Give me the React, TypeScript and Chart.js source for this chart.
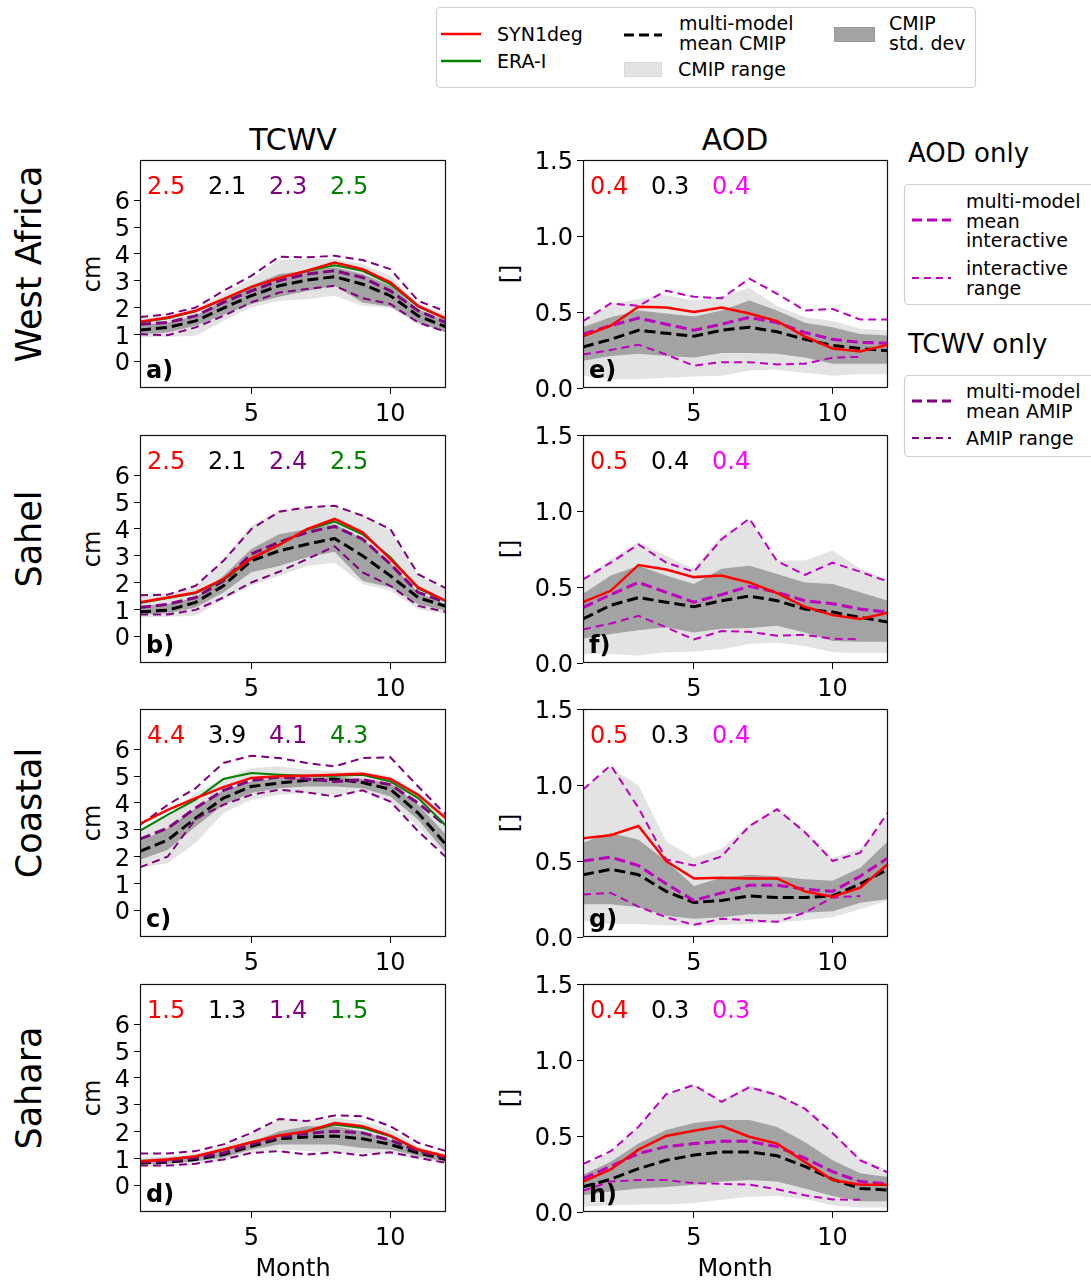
import React, { useEffect, useRef } from 'react';
import { Chart, registerables } from 'chart.js';
Chart.register(...registerables);

const FONT = '"DejaVu Sans", Verdana, sans-serif';

// ---------- axes / categories ----------
const MONTHS = [1, 2, 3, 4, 5, 6, 7, 8, 9, 10, 11, 12];
const MONTH_TICKS = [5, 10];
const TCWV_TICKS = [0, 1, 2, 3, 4, 5, 6];
const AOD_TICKS = [0, 0.5, 1.0, 1.5];
const REGIONS = ['West Africa', 'Sahel', 'Coastal', 'Sahara'];

// ---------- a) West Africa TCWV (cm) ----------
const WA_TCWV_SYN = [1.47, 1.63, 1.88, 2.31, 2.77, 3.1, 3.37, 3.68, 3.43, 2.94, 2.06, 1.59];
const WA_TCWV_ERA = [1.45, 1.6, 1.86, 2.3, 2.76, 3.1, 3.36, 3.58, 3.37, 2.87, 2.03, 1.57];
const WA_TCWV_CMIP_MEAN = [1.16, 1.26, 1.5, 1.98, 2.44, 2.81, 3.02, 3.15, 2.87, 2.44, 1.69, 1.28];
const WA_TCWV_CMIP_SD_HI = [1.36, 1.44, 1.69, 2.25, 2.81, 3.25, 3.37, 3.5, 3.25, 2.81, 1.94, 1.5];
const WA_TCWV_CMIP_SD_LO = [1.0, 1.07, 1.32, 1.73, 2.13, 2.4, 2.62, 2.81, 2.19, 2.03, 1.44, 1.07];
const WA_TCWV_CMIP_MAX = [1.63, 1.69, 1.94, 2.5, 3.06, 3.77, 3.81, 3.81, 3.62, 3.18, 2.13, 1.75];
const WA_TCWV_CMIP_MIN = [0.88, 0.91, 0.95, 1.5, 2.0, 2.25, 2.31, 2.44, 2.06, 2.0, 1.38, 1.13];
const WA_TCWV_AMIP_MEAN = [1.38, 1.44, 1.69, 2.19, 2.62, 3.0, 3.25, 3.37, 3.12, 2.62, 1.88, 1.44];
const WA_TCWV_AMIP_MAX = [1.65, 1.75, 2.0, 2.62, 3.18, 3.89, 3.87, 3.93, 3.77, 3.43, 2.25, 1.85];
const WA_TCWV_AMIP_MIN = [1.0, 0.97, 1.26, 1.69, 2.19, 2.56, 2.69, 2.81, 2.35, 2.13, 1.44, 1.09];

// ---------- b) Sahel TCWV ----------
const SH_TCWV_SYN = [1.26, 1.44, 1.63, 2.13, 2.9, 3.4, 3.99, 4.37, 3.87, 2.87, 1.82, 1.32];
const SH_TCWV_ERA = [1.24, 1.42, 1.6, 2.1, 2.88, 3.4, 3.97, 4.27, 3.8, 2.94, 1.78, 1.3];
const SH_TCWV_CMIP_MEAN = [0.91, 0.97, 1.26, 1.88, 2.81, 3.18, 3.43, 3.64, 3.0, 2.25, 1.44, 1.11];
const SH_TCWV_CMIP_SD_HI = [1.13, 1.2, 1.44, 2.25, 3.25, 3.8, 4.0, 4.18, 3.62, 2.75, 1.63, 1.19];
const SH_TCWV_CMIP_SD_LO = [0.82, 0.85, 1.07, 1.63, 2.38, 2.62, 2.94, 3.15, 2.06, 1.82, 1.19, 0.95];
const SH_TCWV_CMIP_MAX = [1.5, 1.57, 1.82, 2.87, 4.12, 4.68, 4.76, 4.8, 4.55, 3.93, 2.25, 1.75];
const SH_TCWV_CMIP_MIN = [0.7, 0.72, 0.76, 1.38, 1.88, 2.25, 2.62, 2.75, 1.94, 1.69, 1.0, 0.82];
const SH_TCWV_AMIP_MEAN = [1.07, 1.19, 1.44, 2.06, 3.06, 3.5, 3.87, 4.09, 3.62, 2.69, 1.63, 1.26];
const SH_TCWV_AMIP_MAX = [1.53, 1.55, 1.88, 2.81, 3.99, 4.64, 4.8, 4.86, 4.49, 3.99, 2.31, 1.78];
const SH_TCWV_AMIP_MIN = [0.81, 0.81, 0.98, 1.44, 2.0, 2.4, 2.87, 3.35, 2.38, 1.88, 1.13, 0.91];

// ---------- c) Coastal TCWV ----------
const CO_TCWV_SYN = [3.22, 3.74, 4.18, 4.59, 4.93, 4.99, 5.01, 5.05, 5.09, 4.89, 4.3, 3.43];
const CO_TCWV_ERA = [2.96, 3.56, 4.12, 4.89, 5.11, 5.05, 5.01, 5.01, 5.05, 4.8, 4.18, 3.15];
const CO_TCWV_CMIP_MEAN = [2.19, 2.62, 3.43, 4.18, 4.61, 4.74, 4.84, 4.89, 4.76, 4.51, 3.62, 2.44];
const CO_TCWV_CMIP_SD_HI = [2.56, 3.06, 3.81, 4.47, 4.8, 4.93, 4.96, 4.99, 4.89, 4.74, 3.93, 2.81];
const CO_TCWV_CMIP_SD_LO = [1.88, 2.25, 3.12, 3.93, 4.37, 4.55, 4.61, 4.61, 4.55, 4.24, 3.37, 2.13];
const CO_TCWV_CMIP_MAX = [2.87, 3.56, 4.37, 4.93, 5.3, 5.36, 5.24, 5.17, 5.17, 4.99, 4.37, 3.5];
const CO_TCWV_CMIP_MIN = [1.57, 1.75, 2.5, 3.62, 4.12, 4.3, 4.37, 4.3, 4.43, 3.99, 3.12, 2.06];
const CO_TCWV_AMIP_MEAN = [2.65, 3.06, 3.81, 4.47, 4.84, 4.96, 4.89, 4.8, 4.86, 4.68, 3.99, 3.15];
const CO_TCWV_AMIP_MAX = [3.18, 3.93, 4.55, 5.49, 5.76, 5.67, 5.49, 5.36, 5.67, 5.7, 4.61, 3.56];
const CO_TCWV_AMIP_MIN = [1.6, 2.0, 3.4, 3.93, 4.3, 4.49, 4.39, 4.24, 4.47, 4.05, 2.94, 1.98];

// ---------- d) Sahara TCWV ----------
const SA_TCWV_SYN = [0.89, 0.96, 1.08, 1.33, 1.6, 1.85, 2.01, 2.32, 2.2, 1.85, 1.33, 1.08];
const SA_TCWV_ERA = [0.88, 0.95, 1.07, 1.32, 1.6, 1.84, 2.0, 2.26, 2.13, 1.82, 1.31, 1.07];
const SA_TCWV_CMIP_MEAN = [0.83, 0.86, 0.96, 1.14, 1.45, 1.73, 1.8, 1.83, 1.73, 1.52, 1.2, 0.96];
const SA_TCWV_CMIP_SD_HI = [0.96, 1.02, 1.11, 1.33, 1.6, 2.01, 2.2, 2.2, 2.01, 1.7, 1.33, 1.08];
const SA_TCWV_CMIP_SD_LO = [0.77, 0.81, 0.89, 1.02, 1.33, 1.52, 1.52, 1.52, 1.39, 1.33, 1.08, 0.86];
const SA_TCWV_CMIP_MAX = [1.02, 1.08, 1.2, 1.45, 1.89, 2.45, 2.39, 2.51, 2.39, 2.07, 1.45, 1.14];
const SA_TCWV_CMIP_MIN = [0.71, 0.71, 0.77, 0.89, 1.2, 1.33, 1.27, 1.2, 1.2, 1.14, 0.96, 0.83];
const SA_TCWV_AMIP_MEAN = [0.86, 0.9, 1.02, 1.2, 1.52, 1.8, 1.93, 2.01, 1.95, 1.68, 1.27, 1.02];
const SA_TCWV_AMIP_MAX = [1.18, 1.18, 1.27, 1.52, 1.95, 2.47, 2.39, 2.6, 2.57, 2.2, 1.58, 1.27];
const SA_TCWV_AMIP_MIN = [0.73, 0.73, 0.8, 0.96, 1.2, 1.27, 1.14, 1.23, 1.11, 1.23, 1.02, 0.83];

// ---------- e) West Africa AOD ----------
const WA_AOD_SYN = [0.34, 0.41, 0.535, 0.53, 0.5, 0.53, 0.49, 0.44, 0.34, 0.26, 0.24, 0.285];
const WA_AOD_CMIP_MEAN = [0.27, 0.32, 0.38, 0.36, 0.34, 0.38, 0.4, 0.37, 0.32, 0.28, 0.26, 0.245];
const WA_AOD_CMIP_SD_HI = [0.4, 0.465, 0.51, 0.49, 0.47, 0.51, 0.575, 0.51, 0.43, 0.4, 0.355, 0.345];
const WA_AOD_CMIP_SD_LO = [0.18, 0.21, 0.225, 0.21, 0.2, 0.23, 0.23, 0.225, 0.2, 0.16, 0.16, 0.16];
const WA_AOD_CMIP_MAX = [0.44, 0.55, 0.585, 0.61, 0.575, 0.6, 0.66, 0.54, 0.465, 0.44, 0.39, 0.38];
const WA_AOD_CMIP_MIN = [0.08, 0.06, 0.06, 0.065, 0.075, 0.08, 0.115, 0.12, 0.1, 0.08, 0.09, 0.09];
const WA_AOD_INT_MEAN = [0.355, 0.41, 0.46, 0.42, 0.38, 0.42, 0.465, 0.43, 0.365, 0.32, 0.3, 0.295];
const WA_AOD_INT_MAX = [0.44, 0.557, 0.54, 0.64, 0.6, 0.59, 0.72, 0.62, 0.51, 0.52, 0.45, 0.45];
const WA_AOD_INT_MIN = [0.22, 0.25, 0.285, 0.22, 0.147, 0.17, 0.17, 0.155, 0.16, 0.2, 0.205, null];

// ---------- f) Sahel AOD ----------
const SH_AOD_SYN = [0.4, 0.475, 0.645, 0.615, 0.565, 0.575, 0.53, 0.46, 0.37, 0.315, 0.29, 0.33];
const SH_AOD_CMIP_MEAN = [0.29, 0.38, 0.43, 0.4, 0.37, 0.41, 0.44, 0.41, 0.355, 0.335, 0.3, 0.27];
const SH_AOD_CMIP_SD_HI = [0.455, 0.575, 0.64, 0.575, 0.52, 0.62, 0.64, 0.585, 0.53, 0.52, 0.465, 0.41];
const SH_AOD_CMIP_SD_LO = [0.16, 0.19, 0.215, 0.235, 0.2, 0.225, 0.23, 0.245, 0.2, 0.145, 0.14, 0.14];
const SH_AOD_CMIP_MAX = [0.55, 0.685, 0.795, 0.705, 0.62, 0.84, 0.935, 0.675, 0.675, 0.74, 0.62, 0.55];
const SH_AOD_CMIP_MIN = [0.06, 0.06, 0.05, 0.07, 0.075, 0.09, 0.125, 0.135, 0.11, 0.07, 0.065, 0.065];
const SH_AOD_INT_MEAN = [0.365, 0.45, 0.53, 0.465, 0.4, 0.45, 0.505, 0.465, 0.41, 0.39, 0.355, 0.335];
const SH_AOD_INT_MAX = [0.55, 0.66, 0.78, 0.66, 0.6, 0.815, 0.95, 0.67, 0.58, 0.66, 0.6, 0.535];
const SH_AOD_INT_MIN = [0.22, 0.26, 0.31, 0.235, 0.155, 0.21, 0.205, 0.18, 0.185, 0.16, 0.155, null];

// ---------- g) Coastal AOD ----------
const CO_AOD_SYN = [0.65, 0.67, 0.73, 0.5, 0.385, 0.39, 0.385, 0.385, 0.3, 0.265, 0.325, 0.48];
const CO_AOD_CMIP_MEAN = [0.41, 0.445, 0.41, 0.3, 0.227, 0.24, 0.27, 0.26, 0.26, 0.27, 0.35, 0.445];
const CO_AOD_CMIP_SD_HI = [0.62, 0.685, 0.64, 0.5, 0.335, 0.39, 0.41, 0.4, 0.38, 0.37, 0.455, 0.63];
const CO_AOD_CMIP_SD_LO = [0.215, 0.215, 0.195, 0.14, 0.12, 0.13, 0.15, 0.15, 0.16, 0.17, 0.225, 0.25];
const CO_AOD_CMIP_MAX = [0.98, 1.11, 1.0, 0.63, 0.52, 0.58, 0.74, 0.85, 0.7, 0.52, 0.58, 0.8];
const CO_AOD_CMIP_MIN = [0.11, 0.085, 0.085, 0.075, 0.075, 0.08, 0.085, 0.095, 0.11, 0.13, 0.185, 0.24];
const CO_AOD_INT_MEAN = [0.5, 0.525, 0.47, 0.35, 0.24, 0.29, 0.34, 0.34, 0.315, 0.3, 0.4, 0.52];
const CO_AOD_INT_MAX = [0.97, 1.13, 0.85, 0.51, 0.47, 0.53, 0.73, 0.84, 0.69, 0.5, 0.555, 0.82];
const CO_AOD_INT_MIN = [0.28, 0.29, 0.2, 0.13, 0.08, 0.12, 0.11, 0.1, 0.16, 0.26, 0.27, null];

// ---------- h) Sahara AOD ----------
const SA_AOD_SYN = [0.2, 0.28, 0.41, 0.5, 0.535, 0.565, 0.495, 0.45, 0.33, 0.21, 0.18, 0.18];
const SA_AOD_CMIP_MEAN = [0.165, 0.215, 0.285, 0.34, 0.375, 0.395, 0.395, 0.37, 0.3, 0.215, 0.155, 0.145];
const SA_AOD_CMIP_SD_HI = [0.245, 0.33, 0.45, 0.54, 0.585, 0.605, 0.605, 0.56, 0.46, 0.34, 0.255, 0.23];
const SA_AOD_CMIP_SD_LO = [0.11, 0.135, 0.155, 0.165, 0.18, 0.2, 0.21, 0.2, 0.155, 0.105, 0.07, 0.07];
const SA_AOD_CMIP_MAX = [0.3, 0.4, 0.56, 0.77, 0.835, 0.735, 0.835, 0.78, 0.68, 0.52, 0.36, 0.27];
const SA_AOD_CMIP_MIN = [0.035, 0.045, 0.05, 0.05, 0.06, 0.08, 0.1, 0.105, 0.085, 0.045, 0.03, 0.03];
const SA_AOD_INT_MEAN = [0.22, 0.3, 0.385, 0.43, 0.45, 0.465, 0.465, 0.43, 0.355, 0.265, 0.2, 0.185];
const SA_AOD_INT_MAX = [0.315, 0.4, 0.56, 0.775, 0.835, 0.725, 0.82, 0.77, 0.68, 0.52, 0.34, 0.26];
const SA_AOD_INT_MIN = [0.14, 0.2, 0.21, 0.21, 0.19, 0.185, 0.18, 0.15, 0.11, 0.083, 0.08, null];

// ---------- panel annotations ----------
const TCWV_STATS = [
  ['2.5', '2.1', '2.3', '2.5'],
  ['2.5', '2.1', '2.4', '2.5'],
  ['4.4', '3.9', '4.1', '4.3'],
  ['1.5', '1.3', '1.4', '1.5'],
];
const AOD_STATS = [
  ['0.4', '0.3', '0.4'],
  ['0.5', '0.4', '0.4'],
  ['0.5', '0.3', '0.4'],
  ['0.4', '0.3', '0.3'],
];
const TCWV_LETTERS = ['a)', 'b)', 'c)', 'd)'];
const AOD_LETTERS = ['e)', 'f)', 'g)', 'h)'];

// ---------- styles ----------
const RED = '#ff0000';
const GREEN = '#008000';
const BLACK = '#000000';
const PURPLE = '#800080';
const MAGENTA_LINE = '#bf00bf';
const MAGENTA_TEXT = '#ff00ff';
const LIGHT = '#e3e3e3';
const DARK = '#a3a3a3';
const TCWV_STAT_COLORS = [RED, BLACK, PURPLE, GREEN];
const AOD_STAT_COLORS = [RED, BLACK, MAGENTA_TEXT];

// layout
const ROW_TOPS = [160, 435, 709, 984];
const PLOT_H = 228;
const PAD_T = 14;
const PAD_R = 14;
const X_AXIS_H = 42;
const COL = {
  tcwv: { plotLeft: 140, plotW: 306, yAxisW: 45 },
  aod: { plotLeft: 583, plotW: 305, yAxisW: 63 },
};

const pts = (arr: (number | null)[]) => MONTHS.map((m, i) => ({ x: m, y: arr[i] }));

const lineDs = (label: string, arr: (number | null)[], color: string, width: number, dash: number[]) => ({
  label,
  data: pts(arr),
  borderColor: color,
  borderWidth: width,
  borderDash: dash,
  pointRadius: 0,
  fill: false,
  tension: 0,
});

const bandDs = (label: string, hi: number[], lo: number[], color: string) => [
  {
    label: label + ' hi',
    data: pts(hi),
    borderColor: 'rgba(0,0,0,0)',
    borderWidth: 0,
    backgroundColor: color,
    fill: '+1',
    pointRadius: 0,
    tension: 0,
  },
  {
    label: label + ' lo',
    data: pts(lo),
    borderColor: 'rgba(0,0,0,0)',
    borderWidth: 0,
    fill: false,
    pointRadius: 0,
    tension: 0,
  },
];

const THICK_DASH = [11, 5];
const THIN_DASH = [8, 5];

const TCWV_SETS = [
  [WA_TCWV_SYN, WA_TCWV_ERA, WA_TCWV_CMIP_MEAN, WA_TCWV_CMIP_SD_HI, WA_TCWV_CMIP_SD_LO, WA_TCWV_CMIP_MAX, WA_TCWV_CMIP_MIN, WA_TCWV_AMIP_MEAN, WA_TCWV_AMIP_MAX, WA_TCWV_AMIP_MIN],
  [SH_TCWV_SYN, SH_TCWV_ERA, SH_TCWV_CMIP_MEAN, SH_TCWV_CMIP_SD_HI, SH_TCWV_CMIP_SD_LO, SH_TCWV_CMIP_MAX, SH_TCWV_CMIP_MIN, SH_TCWV_AMIP_MEAN, SH_TCWV_AMIP_MAX, SH_TCWV_AMIP_MIN],
  [CO_TCWV_SYN, CO_TCWV_ERA, CO_TCWV_CMIP_MEAN, CO_TCWV_CMIP_SD_HI, CO_TCWV_CMIP_SD_LO, CO_TCWV_CMIP_MAX, CO_TCWV_CMIP_MIN, CO_TCWV_AMIP_MEAN, CO_TCWV_AMIP_MAX, CO_TCWV_AMIP_MIN],
  [SA_TCWV_SYN, SA_TCWV_ERA, SA_TCWV_CMIP_MEAN, SA_TCWV_CMIP_SD_HI, SA_TCWV_CMIP_SD_LO, SA_TCWV_CMIP_MAX, SA_TCWV_CMIP_MIN, SA_TCWV_AMIP_MEAN, SA_TCWV_AMIP_MAX, SA_TCWV_AMIP_MIN],
];
const AOD_SETS = [
  [WA_AOD_SYN, WA_AOD_CMIP_MEAN, WA_AOD_CMIP_SD_HI, WA_AOD_CMIP_SD_LO, WA_AOD_CMIP_MAX, WA_AOD_CMIP_MIN, WA_AOD_INT_MEAN, WA_AOD_INT_MAX, WA_AOD_INT_MIN],
  [SH_AOD_SYN, SH_AOD_CMIP_MEAN, SH_AOD_CMIP_SD_HI, SH_AOD_CMIP_SD_LO, SH_AOD_CMIP_MAX, SH_AOD_CMIP_MIN, SH_AOD_INT_MEAN, SH_AOD_INT_MAX, SH_AOD_INT_MIN],
  [CO_AOD_SYN, CO_AOD_CMIP_MEAN, CO_AOD_CMIP_SD_HI, CO_AOD_CMIP_SD_LO, CO_AOD_CMIP_MAX, CO_AOD_CMIP_MIN, CO_AOD_INT_MEAN, CO_AOD_INT_MAX, CO_AOD_INT_MIN],
  [SA_AOD_SYN, SA_AOD_CMIP_MEAN, SA_AOD_CMIP_SD_HI, SA_AOD_CMIP_SD_LO, SA_AOD_CMIP_MAX, SA_AOD_CMIP_MIN, SA_AOD_INT_MEAN, SA_AOD_INT_MAX, SA_AOD_INT_MIN],
];

function tcwvDatasets(s: any[]) {
  const [syn, era, mean, sdHi, sdLo, max, min, amip, amipMax, amipMin] = s;
  return [
    lineDs('SYN1deg', syn, RED, 2.5, []),
    lineDs('ERA-I', era, GREEN, 2, []),
    lineDs('multi-model mean AMIP', amip, PURPLE, 3, THICK_DASH),
    lineDs('AMIP max', amipMax, PURPLE, 2, THIN_DASH),
    lineDs('AMIP min', amipMin, PURPLE, 2, THIN_DASH),
    lineDs('multi-model mean CMIP', mean, BLACK, 3, THICK_DASH),
    ...bandDs('CMIP std', sdHi, sdLo, DARK),
    ...bandDs('CMIP range', max, min, LIGHT),
  ];
}

function aodDatasets(s: any[]) {
  const [syn, mean, sdHi, sdLo, max, min, im, iMax, iMin] = s;
  return [
    lineDs('SYN1deg', syn, RED, 2.5, []),
    lineDs('multi-model mean interactive', im, MAGENTA_LINE, 3, THICK_DASH),
    lineDs('interactive max', iMax, MAGENTA_LINE, 2, THIN_DASH),
    lineDs('interactive min', iMin, MAGENTA_LINE, 2, THIN_DASH),
    lineDs('multi-model mean CMIP', mean, BLACK, 3, THICK_DASH),
    ...bandDs('CMIP std', sdHi, sdLo, DARK),
    ...bandDs('CMIP range', max, min, LIGHT),
  ];
}

const framePlugin = {
  id: 'frameText',
  afterDraw(chart: any, _args: any, opts: any) {
    const { ctx, chartArea: a } = chart;
    ctx.save();
    ctx.strokeStyle = '#111';
    ctx.lineWidth = 1.2;
    ctx.strokeRect(Math.round(a.left) + 0.5, Math.round(a.top) + 0.5, Math.round(a.right - a.left) - 1, Math.round(a.bottom - a.top) - 1);
    ctx.textBaseline = 'middle';
    ctx.textAlign = 'left';
    ctx.font = `24px ${FONT}`;
    (opts.stats || []).forEach((s: any, i: number) => {
      ctx.fillStyle = s.color;
      ctx.fillText(s.text, a.left + 7 + i * 61, a.top + 28);
    });
    ctx.font = `bold 24px ${FONT}`;
    ctx.fillStyle = '#000';
    ctx.fillText(opts.letter, a.left + 6, a.bottom - 16);
    ctx.restore();
  },
};

function Panel({ kind, row }: { kind: 'tcwv' | 'aod'; row: number }) {
  const ref = useRef<HTMLCanvasElement>(null);
  const c = COL[kind];
  const width = c.yAxisW + c.plotW + PAD_R;
  const height = PAD_T + PLOT_H + X_AXIS_H;
  const left = c.plotLeft - c.yAxisW;
  const top = ROW_TOPS[row] - PAD_T;

  useEffect(() => {
    const isT = kind === 'tcwv';
    const datasets = isT ? tcwvDatasets(TCWV_SETS[row]) : aodDatasets(AOD_SETS[row]);
    const statTexts = isT ? TCWV_STATS[row] : AOD_STATS[row];
    const statColors = isT ? TCWV_STAT_COLORS : AOD_STAT_COLORS;
    const tickFont = { family: FONT, size: 24 };
    const chart = new Chart(ref.current as HTMLCanvasElement, {
      type: 'line',
      data: { datasets: datasets as any },
      plugins: [framePlugin],
      options: {
        responsive: false,
        animation: false,
        events: [],
        layout: { padding: { top: PAD_T, right: PAD_R, left: 0, bottom: 0 } },
        plugins: {
          legend: { display: false },
          tooltip: { enabled: false },
          filler: { propagate: false },
          frameText: {
            stats: statTexts.map((t, i) => ({ text: t, color: statColors[i] })),
            letter: isT ? TCWV_LETTERS[row] : AOD_LETTERS[row],
          },
        } as any,
        scales: {
          x: {
            type: 'linear',
            min: 1,
            max: 12,
            afterBuildTicks: (s: any) => {
              s.ticks = MONTH_TICKS.map((v) => ({ value: v }));
            },
            afterFit: (s: any) => {
              s.height = X_AXIS_H;
              s.paddingLeft = 0;
              s.paddingRight = 0;
            },
            ticks: {
              font: tickFont,
              color: '#000',
              padding: 6,
              maxRotation: 0,
              autoSkip: false,
              callback: (v: any) => String(v),
            },
            grid: { drawOnChartArea: false, drawTicks: true, tickLength: 6, color: '#000', lineWidth: 1 },
            border: { display: false },
          },
          y: {
            type: 'linear',
            min: isT ? -1 : 0,
            max: isT ? 7.5 : 1.5,
            afterBuildTicks: (s: any) => {
              s.ticks = (isT ? TCWV_TICKS : AOD_TICKS).map((v) => ({ value: v }));
            },
            afterFit: (s: any) => {
              s.width = c.yAxisW;
              s.paddingTop = 0;
              s.paddingBottom = 0;
            },
            ticks: {
              font: tickFont,
              color: '#000',
              padding: 4,
              labelOffset: 3,
              autoSkip: false,
              callback: (v: any) => (isT ? String(v) : Number(v).toFixed(1)),
            },
            grid: { drawOnChartArea: false, drawTicks: true, tickLength: 6, color: '#000', lineWidth: 1 },
            border: { display: false },
          },
        },
      } as any,
    });
    return () => chart.destroy();
  }, [kind, row]);

  return (
    <canvas
      ref={ref}
      width={width}
      height={height}
      style={{ position: 'absolute', left, top, width, height }}
    />
  );
}

function Txt({ x, y, size, children, center, color, bold, rotate }: any) {
  const tx = center ? '-50%' : '0';
  return (
    <div
      style={{
        position: 'absolute',
        left: x,
        top: y,
        fontSize: size,
        lineHeight: 1,
        whiteSpace: 'nowrap',
        color: color || '#000',
        fontWeight: bold ? 'bold' : 'normal',
        transform: rotate ? 'translate(-50%,-50%) rotate(-90deg)' : `translate(${tx},-50%)`,
      }}
    >
      {children}
    </div>
  );
}

function Legends() {
  const f = 19;
  return (
    <>
      <svg width={1091} height={470} style={{ position: 'absolute', left: 0, top: 0 }}>
        {/* top legend */}
        <rect x={436.5} y={7.5} width={539} height={80} rx={4} fill="#fff" stroke="#d0d0d0" strokeWidth={1.2} />
        <line x1={441} y1={34} x2={481} y2={34} stroke={RED} strokeWidth={2.5} />
        <line x1={441} y1={61} x2={481} y2={61} stroke={GREEN} strokeWidth={2.5} />
        <line x1={624} y1={35} x2={662} y2={35} stroke={BLACK} strokeWidth={3} strokeDasharray="10 5" />
        <rect x={624.5} y={62.5} width={37} height={14} fill={LIGHT} stroke="#d8d8d8" />
        <rect x={834.5} y={27.5} width={40} height={14} fill={DARK} stroke="#999" />
        {/* AOD only legend */}
        <rect x={904.5} y={184.5} width={195} height={120} rx={4} fill="#fff" stroke="#d0d0d0" strokeWidth={1.2} />
        <line x1={912} y1={220} x2={951} y2={220} stroke={MAGENTA_LINE} strokeWidth={3} strokeDasharray="10 5" />
        <line x1={912} y1={278} x2={951} y2={278} stroke={MAGENTA_LINE} strokeWidth={2} strokeDasharray="7 5" />
        {/* TCWV only legend */}
        <rect x={904.5} y={375.5} width={195} height={81} rx={4} fill="#fff" stroke="#d0d0d0" strokeWidth={1.2} />
        <line x1={912} y1={401} x2={951} y2={401} stroke={PURPLE} strokeWidth={3} strokeDasharray="10 5" />
        <line x1={912} y1={438} x2={951} y2={438} stroke={PURPLE} strokeWidth={2} strokeDasharray="7 5" />
      </svg>
      <Txt x={497} y={34} size={f}>SYN1deg</Txt>
      <Txt x={497} y={61} size={f}>ERA-I</Txt>
      <Txt x={679} y={23} size={f}>multi-model</Txt>
      <Txt x={679} y={43} size={f}>mean CMIP</Txt>
      <Txt x={678} y={69} size={f}>CMIP range</Txt>
      <Txt x={889} y={23} size={f}>CMIP</Txt>
      <Txt x={889} y={43} size={f}>std. dev</Txt>

      <Txt x={908} y={153} size={26}>AOD only</Txt>
      <Txt x={966} y={201} size={f}>multi-model</Txt>
      <Txt x={966} y={221} size={f}>mean</Txt>
      <Txt x={966} y={240} size={f}>interactive</Txt>
      <Txt x={966} y={268} size={f}>interactive</Txt>
      <Txt x={966} y={288} size={f}>range</Txt>

      <Txt x={908} y={344} size={26}>TCWV only</Txt>
      <Txt x={966} y={391} size={f}>multi-model</Txt>
      <Txt x={966} y={411} size={f}>mean AMIP</Txt>
      <Txt x={966} y={438} size={f}>AMIP range</Txt>
    </>
  );
}

export default function App() {
  return (
    <div
      style={{
        position: 'absolute',
        left: 0,
        top: 0,
        width: 1091,
        height: 1280,
        background: '#fff',
        overflow: 'hidden',
        fontFamily: FONT,
        color: '#000',
      }}
    >
      <Legends />
      <Txt x={293} y={140} size={30} center>TCWV</Txt>
      <Txt x={735} y={140} size={30} center>AOD</Txt>
      {REGIONS.map((r, i) => {
        const cy = ROW_TOPS[i] + PLOT_H / 2;
        return (
          <React.Fragment key={r}>
            <Txt x={29} y={cy - 10} size={35} rotate>{r}</Txt>
            <Txt x={92} y={cy} size={24} rotate>cm</Txt>
            <Txt x={510} y={cy} size={24} rotate>[]</Txt>
            <Panel kind="tcwv" row={i} />
            <Panel kind="aod" row={i} />
          </React.Fragment>
        );
      })}
      <Txt x={293} y={1268} size={24} center>Month</Txt>
      <Txt x={735} y={1268} size={24} center>Month</Txt>
    </div>
  );
}
